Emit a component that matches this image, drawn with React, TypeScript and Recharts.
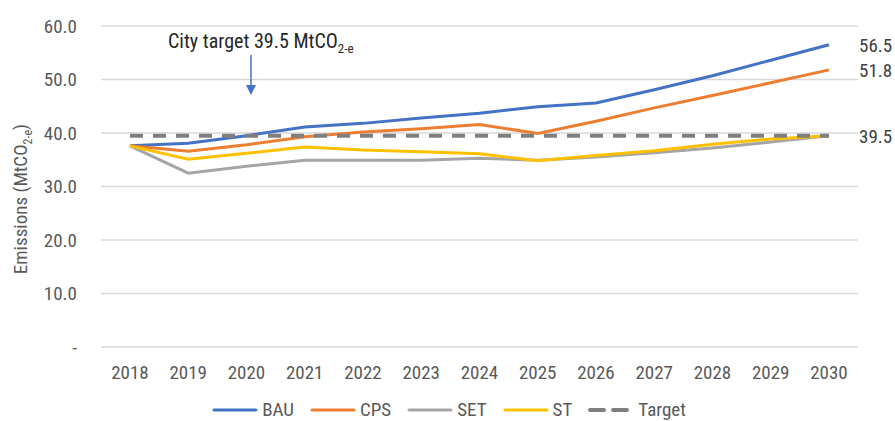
import { LineChart, Line, XAxis, YAxis, CartesianGrid, Legend, LabelList } from 'recharts';

const years = ['2018', '2019', '2020', '2021', '2022', '2023', '2024', '2025', '2026', '2027', '2028', '2029', '2030'];
const bau = [37.6, 38.1, 39.5, 41.1, 41.8, 42.8, 43.7, 44.9, 45.6, 48.1, 50.7, 53.6, 56.5];
const cps = [37.6, 36.6, 37.8, 39.3, 40.2, 40.8, 41.6, 39.9, 42.2, 44.7, 47.0, 49.4, 51.8];
const set = [37.6, 32.5, 33.8, 34.9, 34.9, 34.9, 35.3, 34.9, 35.5, 36.3, 37.2, 38.3, 39.5];
const st = [37.6, 35.1, 36.2, 37.4, 36.8, 36.5, 36.1, 34.8, 35.8, 36.7, 37.9, 38.9, 39.5];
const target = [39.5, 39.5, 39.5, 39.5, 39.5, 39.5, 39.5, 39.5, 39.5, 39.5, 39.5, 39.5, 39.5];
const yTicks = [0, 10, 20, 30, 40, 50, 60];

const data = years.map((year, i) => ({
  year,
  BAU: bau[i],
  CPS: cps[i],
  SET: set[i],
  ST: st[i],
  Target: target[i],
}));

const FONT = "'Roboto Condensed', 'Liberation Sans Narrow', 'Arial Narrow', Roboto, sans-serif";
const TEXT = '#595959';

const series = [
  { key: 'BAU', color: '#4472C4', dash: undefined, endLabel: true },
  { key: 'CPS', color: '#ED7D31', dash: undefined, endLabel: true },
  { key: 'SET', color: '#A5A5A5', dash: undefined, endLabel: false },
  { key: 'ST', color: '#FFC000', dash: undefined, endLabel: false },
  { key: 'Target', color: '#7F7F7F', dash: '13 10', endLabel: true },
];

const lastIndex = years.length - 1;

const EndLabel = (props: any) => {
  const { x, y, value, index } = props;
  if (index !== lastIndex) return null;
  return (
    <text x={x + 30} y={y + 7} fill="#404040" fontSize={19} fontFamily={FONT}>
      {Number(value).toFixed(1)}
    </text>
  );
};

const YLabel = () => (
  <text
    transform="translate(27, 199) rotate(-90)"
    textAnchor="middle"
    fill={TEXT}
    fontSize={19}
    fontFamily={FONT}
  >
    Emissions (MtCO
    <tspan fontSize={12} dy={5}>2-e</tspan>
    <tspan dy={-5}>)</tspan>
  </text>
);

const renderLegend = () => (
  <div style={{ display: 'flex', justifyContent: 'center', gap: 16, fontFamily: FONT, fontSize: 19, lineHeight: '20px', color: TEXT, paddingTop: 13, paddingLeft: 40 }}>
    {series.map((s) => (
      <div key={s.key} style={{ display: 'flex', alignItems: 'center', gap: 4 }}>
        <svg width={46} height={10}>
          <line
            x1={2}
            y1={5}
            x2={44}
            y2={5}
            stroke={s.color}
            strokeWidth={s.dash ? 4 : 3}
            strokeDasharray={s.dash ? '14 9' : undefined}
            strokeLinecap="round"
          />
        </svg>
        <span>{s.key}</span>
      </div>
    ))}
  </div>
);

export default function App() {
  return (
    <div style={{ position: 'absolute', left: 0, top: 0, width: 895, height: 421, background: '#fff' }}>
      <LineChart width={895} height={421} data={data} margin={{ top: 26, right: 37, left: 0, bottom: 0 }}>
        <CartesianGrid vertical={false} stroke="#d9d9d9" strokeWidth={1.5} />
        <XAxis
          dataKey="year"
          height={40}
          padding={{ left: 29, right: 29 }}
          axisLine={false}
          tickLine={false}
          tickSize={0}
          tickMargin={19}
          tick={{ fill: TEXT, fontSize: 19, fontFamily: FONT }}
        />
        <YAxis
          width={101}
          domain={[0, 60]}
          ticks={yTicks}
          axisLine={false}
          tickLine={false}
          tickSize={0}
          tickMargin={24}
          tickFormatter={(v: number) => (v === 0 ? '-' : v.toFixed(1))}
          tick={{ fill: TEXT, fontSize: 19, fontFamily: FONT }}
          label={<YLabel />}
        />
        <Legend verticalAlign="bottom" height={34} content={renderLegend} />
        {series.map((s) => (
          <Line
            key={s.key}
            dataKey={s.key}
            stroke={s.color}
            strokeWidth={s.dash ? 4 : 3}
            strokeDasharray={s.dash}
            dot={false}
            activeDot={false}
            isAnimationActive={false}
          >
            {s.endLabel && <LabelList dataKey={s.key} content={EndLabel} />}
          </Line>
        ))}
      </LineChart>
      <svg style={{ position: 'absolute', left: 0, top: 0, pointerEvents: 'none' }} width={895} height={421}>
        <text x={168} y={48} fill="#262626" fontSize={20} fontFamily={FONT}>
          City target 39.5 MtCO
          <tspan fontSize={13} dy={5}>2-e</tspan>
        </text>
        <line x1={251} y1={55} x2={251} y2={85} stroke="#4472C4" strokeWidth={1.5} />
        <polygon points="246,85 256,85 251,95" fill="#4472C4" />
      </svg>
    </div>
  );
}
